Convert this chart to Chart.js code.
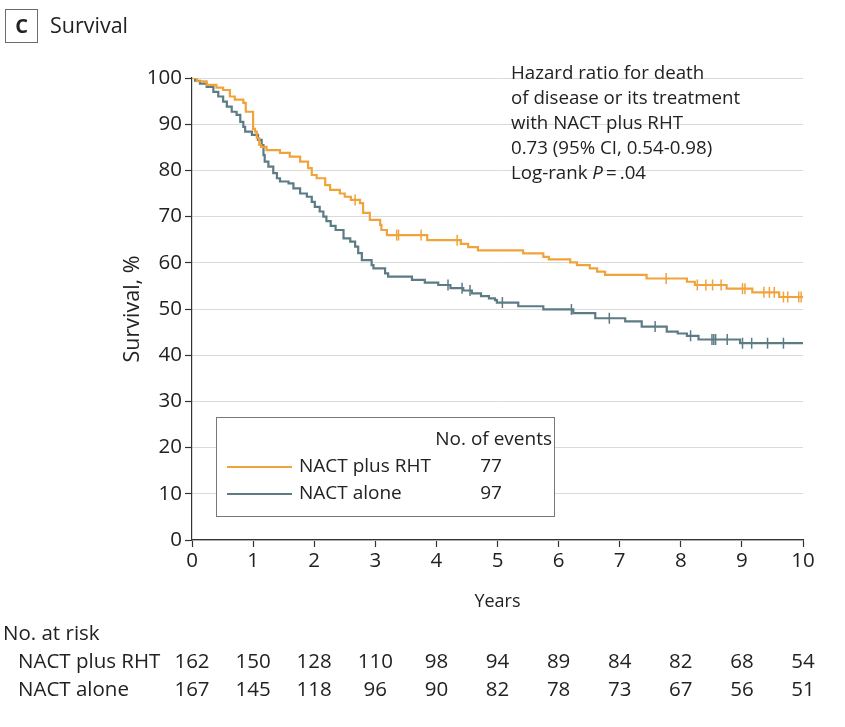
<!DOCTYPE html>
<html><head><meta charset="utf-8">
<script src="https://cdn.jsdelivr.net/npm/chart.js@4"></script>
<style>html,body{margin:0;padding:0;background:#fff}#wrap{width:845px;height:727px;position:relative}canvas{display:block}</style>
</head><body><div id="wrap"><canvas id="c" width="845" height="727" style="width:845px;height:727px"></canvas></div>
<script>
// ---- data ----
const groupNames = ['NACT plus RHT', 'NACT alone'];
const eventCounts = [77, 97];

const rhtTimes = [0, 0.08, 0.24, 0.40, 0.51, 0.62, 0.70, 0.84, 0.88, 1.00, 1.03, 1.06, 1.10, 1.13, 1.22, 1.44, 1.60, 1.77, 1.90, 1.96, 2.04, 2.18, 2.26, 2.42, 2.50, 2.60, 2.75, 2.80, 2.91, 3.08, 3.10, 3.19, 3.85, 4.40, 4.52, 4.68, 5.42, 5.75, 5.84, 6.19, 6.30, 6.51, 6.63, 6.76, 7.44, 8.10, 8.23, 8.75, 9.17, 9.61, 10];
const rhtSurv  = [100, 99.3, 98.5, 97.9, 97.4, 96.0, 95.3, 94.6, 92.7, 89.0, 88.4, 87.0, 85.5, 85.1, 84.4, 83.8, 83.0, 81.9, 80.5, 79.0, 78.3, 76.8, 75.8, 75.0, 74.3, 73.6, 72.9, 70.8, 69.3, 68.2, 67.1, 66.0, 64.9, 64.1, 63.4, 62.7, 62.05, 61.3, 60.75, 60.1, 59.5, 58.8, 58.1, 57.4, 56.6, 55.9, 55.2, 54.4, 53.6, 52.6, 52.6];
const rhtCensor = [2.67, 3.35, 3.38, 3.75, 4.34, 7.76, 8.27, 8.41, 8.52, 8.66, 9.01, 9.05, 9.36, 9.45, 9.53, 9.68, 9.75, 9.93, 9.97];

const aloneTimes = [0, 0.05, 0.13, 0.24, 0.35, 0.43, 0.51, 0.57, 0.65, 0.73, 0.79, 0.84, 0.87, 0.98, 1.08, 1.14, 1.17, 1.19, 1.25, 1.33, 1.39, 1.44, 1.58, 1.66, 1.77, 1.88, 1.96, 2.01, 2.09, 2.15, 2.20, 2.27, 2.35, 2.48, 2.59, 2.67, 2.72, 2.78, 2.94, 2.97, 3.16, 3.21, 3.60, 3.81, 4.03, 4.23, 4.44, 4.58, 4.73, 4.86, 4.96, 4.99, 5.34, 5.75, 6.24, 6.60, 7.09, 7.36, 7.77, 7.95, 8.10, 8.29, 8.97, 10];
const aloneSurv  = [100, 99.4, 98.8, 98.1, 97.0, 96.0, 94.9, 93.8, 92.7, 92.0, 90.5, 89.4, 88.4, 87.7, 86.6, 85.5, 83.3, 81.9, 80.8, 79.4, 78.3, 77.6, 77.2, 76.1, 75.0, 74.3, 73.2, 72.1, 71.1, 70.0, 69.0, 68.0, 67.1, 65.3, 64.6, 63.5, 62.1, 60.6, 59.5, 58.8, 57.7, 57.0, 56.3, 55.7, 55.2, 54.5, 54.0, 53.4, 52.8, 52.3, 51.9, 51.4, 50.6, 49.9, 49.1, 48.0, 47.3, 46.2, 45.1, 44.7, 44.2, 43.4, 42.6, 42.6];
const aloneCensor = [4.19, 4.42, 4.55, 5.08, 6.21, 6.83, 7.58, 8.16, 8.51, 8.54, 8.57, 8.76, 9.01, 9.16, 9.42, 9.68];

const xTickValues = [0, 1, 2, 3, 4, 5, 6, 7, 8, 9, 10];
const yTickValues = [0, 10, 20, 30, 40, 50, 60, 70, 80, 90, 100];
const riskRht   = [162, 150, 128, 110, 98, 94, 89, 84, 82, 68, 54];
const riskAlone = [167, 145, 118, 96, 90, 82, 78, 73, 67, 56, 51];

const hrLines = ['Hazard ratio for death', 'of disease or its treatment', 'with NACT plus RHT', '0.73 (95% CI, 0.54-0.98)'];

// ---- styles ----
const ORANGE = '#f1a33b';
const SLATE = '#5d7b84';
const TXT = '#222';
const FONT = '"Open Sans", "Noto Sans", sans-serif';

function pts(ts, ss) { return ts.map((t, i) => ({x: t, y: ss[i]})); }
function survAt(ts, ss, t) { let v = ss[0]; for (let i = 0; i < ts.length; i++) { if (ts[i] <= t) v = ss[i]; } return v; }
function censorPts(c, ts, ss) { return c.map(t => ({x: t, y: survAt(ts, ss, t)})); }

const overlay = {
  id: 'overlay',
  afterDatasetsDraw(chart) {
    const ctx = chart.ctx;
    const xs = chart.scales.x;
    ctx.save();
    ctx.textBaseline = 'middle';
    // panel header
    ctx.strokeStyle = '#6b6b6b'; ctx.lineWidth = 1;
    ctx.strokeRect(5.5, 9.5, 32, 33);
    ctx.fillStyle = TXT;
    ctx.font = 'bold 20px ' + FONT; ctx.textAlign = 'center';
    ctx.fillText('C', 21.5, 27);
    ctx.font = '21.5px ' + FONT; ctx.textAlign = 'left';
    ctx.fillText('Survival', 50, 27);
    // hazard ratio annotation
    ctx.font = '18.7px ' + FONT;
    const lh = 24.8; let y0 = 74;
    hrLines.forEach((s, i) => ctx.fillText(s, 511, y0 + i * lh));
    let yl = y0 + 4 * lh; let xl = 511;
    ctx.fillText('Log-rank ', xl, yl); xl += ctx.measureText('Log-rank ').width;
    ctx.font = 'italic 18.7px ' + FONT; ctx.fillText('P', xl, yl); xl += ctx.measureText('P').width;
    ctx.font = '18.7px ' + FONT; ctx.fillText('\u2009=\u2009.04', xl, yl);
    // legend box
    ctx.fillStyle = '#fff'; ctx.fillRect(216, 417, 339, 100);
    ctx.strokeStyle = '#777'; ctx.lineWidth = 1; ctx.strokeRect(216.5, 417.5, 338, 99);
    ctx.fillStyle = TXT; ctx.font = '19px ' + FONT;
    ctx.textAlign = 'right'; ctx.fillText('No. of events', 552, 440);
    const colors = [ORANGE, SLATE]; const rowsY = [467, 494];
    for (let i = 0; i < 2; i++) {
      ctx.strokeStyle = colors[i]; ctx.lineWidth = 2;
      ctx.beginPath(); ctx.moveTo(227, rowsY[i]); ctx.lineTo(292, rowsY[i]); ctx.stroke();
      ctx.textAlign = 'left'; ctx.fillText(groupNames[i], 299, rowsY[i]);
      ctx.textAlign = 'center'; ctx.fillText(String(eventCounts[i]), 491, rowsY[i]);
    }
    // number at risk table
    ctx.textAlign = 'left'; ctx.font = '20.5px ' + FONT;
    ctx.fillText('No. at risk', 3, 634);
    const risk = [riskRht, riskAlone]; const ry = [662, 690];
    for (let i = 0; i < 2; i++) {
      ctx.textAlign = 'left'; ctx.fillText(groupNames[i], 18, ry[i]);
      ctx.textAlign = 'center';
      xTickValues.forEach((v, j) => ctx.fillText(String(risk[i][j]), xs.getPixelForValue(v), ry[i]));
    }
    ctx.restore();
  }
};

new Chart(document.getElementById('c'), {
  type: 'line',
  data: {
    datasets: [
      {label: groupNames[0], data: pts(rhtTimes, rhtSurv), stepped: true, borderColor: ORANGE, borderWidth: 2.2, pointRadius: 0, fill: false, order: 1},
      {label: groupNames[1], data: pts(aloneTimes, aloneSurv), stepped: true, borderColor: SLATE, borderWidth: 2.2, pointRadius: 0, fill: false, order: 2},
      {label: 'rht censored', type: 'scatter', data: censorPts(rhtCensor, rhtTimes, rhtSurv), pointStyle: 'line', rotation: 90, pointRadius: 5.5, borderColor: ORANGE, backgroundColor: ORANGE, pointBorderWidth: 1.5, order: 0},
      {label: 'alone censored', type: 'scatter', data: censorPts(aloneCensor, aloneTimes, aloneSurv), pointStyle: 'line', rotation: 90, pointRadius: 5.5, borderColor: SLATE, backgroundColor: SLATE, pointBorderWidth: 1.5, order: 0}
    ]
  },
  options: {
    responsive: false, animation: false, devicePixelRatio: 1,
    layout: {padding: {left: 120, top: 78, right: 42, bottom: 0}},
    plugins: {legend: {display: false}, tooltip: {enabled: false}, title: {display: false}},
    scales: {
      x: {
        type: 'linear', min: 0, max: 10,
        afterBuildTicks: s => { s.ticks = xTickValues.map(v => ({value: v})); },
        afterFit: s => { s.height = 187; },
        ticks: {color: TXT, font: {family: FONT, size: 20.5}, padding: 2, maxRotation: 0, autoSkip: false},
        grid: {drawOnChartArea: false, drawTicks: true, tickLength: 7, tickColor: '#333', tickWidth: 1.2},
        border: {color: '#333', width: 1.2},
        title: {display: true, text: 'Years', color: TXT, font: {family: FONT, size: 18}, padding: {top: 0, bottom: 114}}
      },
      y: {
        min: 0, max: 100,
        afterBuildTicks: s => { s.ticks = yTickValues.map(v => ({value: v})); },
        afterFit: s => { s.width = 72; },
        ticks: {color: TXT, font: {family: FONT, size: 20.5}, padding: 3, autoSkip: false},
        grid: {color: '#dadada', lineWidth: 1, drawTicks: true, tickLength: 7, tickColor: '#333', tickWidth: 1.2},
        border: {color: '#333', width: 1.2},
        title: {display: true, text: 'Survival, %', color: TXT, font: {family: FONT, size: 21.5}, padding: {top: 0, bottom: 0}}
      }
    }
  },
  plugins: [overlay]
});
</script></body></html>
